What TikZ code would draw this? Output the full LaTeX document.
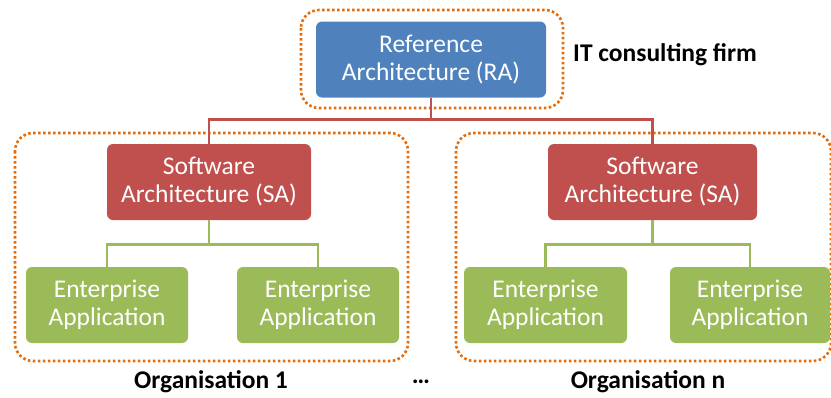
\documentclass[tikz,border=0pt]{standalone}
\usepackage{fontspec}
\setmainfont{Carlito}
\usetikzlibrary{positioning}
\definecolor{raBlue}{HTML}{4F81BD}
\definecolor{saRed}{HTML}{C0504D}
\definecolor{eaGreen}{HTML}{9BBB59}
\definecolor{orgOrange}{HTML}{E46C0A}
\tikzset{
  box/.style={rectangle,rounded corners=6pt,draw=none,text=white,align=center,
    inner sep=0pt,minimum height=76pt,font=\fontsize{25.5}{28}\selectfont},
  rabox/.style={box,fill=raBlue,minimum width=230pt},
  sabox/.style={box,fill=saRed},
  eabox/.style={box,fill=eaGreen,minimum width=162pt},
  redline/.style={draw=saRed,line width=2.6pt},
  greenline/.style={draw=eaGreen,line width=2.6pt},
  orgframe/.style={draw=orgOrange,line width=2.6pt,dash pattern=on 2.6pt off 2.4pt,rounded corners=18pt},
  caption/.style={font=\fontsize{25.5}{28}\selectfont\bfseries,inner sep=0pt}
}
\begin{document}
\begin{tikzpicture}[x=1pt,y=-1pt]
\useasboundingbox (0,0) rectangle (831,397);
% frames
\draw[orgframe] (301,10) rectangle (563,108);
\draw[orgframe] (15,133) rectangle (408,361);
\draw[orgframe] (456,133) rectangle (831,361);
% boxes
\node[rabox] (ra) at (431,59.5) {Reference\\Architecture (RA)};
\node[sabox,minimum width=204pt] (sa1) at (209,182) {Software\\Architecture (SA)};
\node[sabox,minimum width=209pt] (sa2) at (652.5,182) {Software\\Architecture (SA)};
\node[eabox] (ea1) at (107,305) {Enterprise\\Application};
\node[eabox] (ea2) at (318,305) {Enterprise\\Application};
\node[eabox,minimum width=163pt] (ea3) at (545.5,305) {Enterprise\\Application};
\node[eabox,minimum width=160pt] (ea4) at (750,305) {Enterprise\\Application};
% connectors
\draw[redline] (ra.south) -- ++(0,22) -| (sa1.north);
\draw[redline] (ra.south) -- ++(0,22) -| (sa2.north);
\draw[greenline] (sa1.south) -- ++(0,24) -| (ea1.north);
\draw[greenline] (sa1.south) -- ++(0,24) -| (ea2.north);
\draw[greenline] (sa2.south) -- ++(0,24) -| (ea3.north);
\draw[greenline] (sa2.south) -- ++(0,24) -| (ea4.north);
% labels
\node[caption,anchor=west] (firm) at (573,55) {IT consulting firm};
\node[caption] (org1) at (211,382) {Organisation 1};
\node[caption] (dots) at (421,382) {\dots};
\node[caption] (orgn) at (648,382) {Organisation n};
\end{tikzpicture}
\end{document}
